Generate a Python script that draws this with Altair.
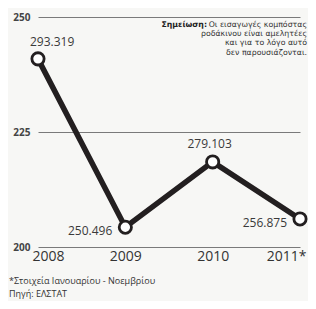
import altair as alt
import pandas as pd

years = ["2008", "2009", "2010", "2011*"]
value_labels = ["293.319", "250.496", "279.103", "256.875"]
heights = [240.9, 204.3, 218.5, 206.1]  # positions
y_ticks = [200, 225, 250]
note_bold = "Σημείωση:"
note_lines = ["Οι εισαγωγές κομπόστας", "ροδάκινου είναι αμελητέες",
              "και για το λόγο αυτό", "δεν παρουσιάζονται."]
footnote = "*Στοιχεία Ιανουαρίου - Νοεμβρίου"
source = "Πηγή: ΕΛΣΤΑΤ"

df = pd.DataFrame({"year": years, "label": value_labels, "pos": heights})

W, H = 274, 230
INK = "#231f20"
FONT = "Open Sans"
NOTE_FONT = "DejaVu Sans"

x = alt.X("year:O", sort=years,
          scale=alt.Scale(type="point", range=[4, 266], padding=0),
          axis=alt.Axis(title=None, labelAngle=0, domain=False, ticks=False,
                        labelFontSize=14, labelFont=FONT, labelColor="#333",
                        labelPadding=2, labelFlush=10, labelFlushOffset=6))
y = alt.Y("pos:Q", scale=alt.Scale(domain=[200, 250], nice=False, zero=False),
          axis=alt.Axis(title=None, values=y_ticks, grid=True, gridColor="#7a7a7a",
                        gridWidth=1, domain=False, ticks=False, labelFontSize=10,
                        labelFont=FONT, labelFontWeight="bold", labelColor="#444",
                        labelPadding=4))

base = alt.Chart(df)
line = base.mark_line(color=INK, strokeWidth=5.5).encode(x=x, y=y)
pts = base.mark_point(shape="circle", filled=True, fill="white", stroke=INK,
                      strokeWidth=2.8, size=150, opacity=1).encode(x=x, y=y)

lab_kw = dict(font=FONT, fontSize=12, color="#3a3a3a")
lab_a = base.transform_filter(alt.datum.year == "2008").mark_text(
    align="left", dx=-8, dy=-17, **lab_kw).encode(x=x, y=y, text="label:N")
lab_b = base.transform_filter(alt.datum.year == "2010").mark_text(
    align="center", dx=-3, dy=-18, **lab_kw).encode(x=x, y=y, text="label:N")
lab_c = base.transform_filter(
    alt.FieldOneOfPredicate(field="year", oneOf=["2009", "2011*"])).mark_text(
    align="right", dx=-13, dy=4, **lab_kw).encode(x=x, y=y, text="label:N")

one = pd.DataFrame({"a": [0]})
note_layers = []
for i, txt in enumerate(note_lines):
    note_layers.append(alt.Chart(one).mark_text(
        align="right", baseline="middle", font=NOTE_FONT, fontSize=7.8, color="#333").encode(
        x=alt.value(273), y=alt.value(7.5 + 9.4 * i), text=alt.value(txt)))
note_b = alt.Chart(one).mark_text(
    align="right", baseline="middle", font=NOTE_FONT, fontSize=7.8, fontWeight="bold",
    color="#222").encode(x=alt.value(173), y=alt.value(7.5), text=alt.value(note_bold))
foot = alt.Chart(one).mark_text(
    align="left", baseline="middle", font=FONT, fontSize=9, color="#333").encode(
    x=alt.value(-25), y=alt.value(264), text=alt.value(footnote))
src = alt.Chart(one).mark_text(
    align="left", baseline="middle", font=FONT, fontSize=9, color="#333").encode(
    x=alt.value(-25), y=alt.value(277), text=alt.value(source))

chart = alt.layer(line, pts, lab_a, lab_b, lab_c, *note_layers, note_b, foot, src).properties(
    width=W, height=H,
    autosize=alt.AutoSizeParams(type="none"),
    padding={"left": 26, "top": 9, "right": 0, "bottom": 54},
    background="#f7f7f5",
).configure_view(stroke=None)

chart.save("out.html", embed_options={"renderer": "svg", "actions": False})
